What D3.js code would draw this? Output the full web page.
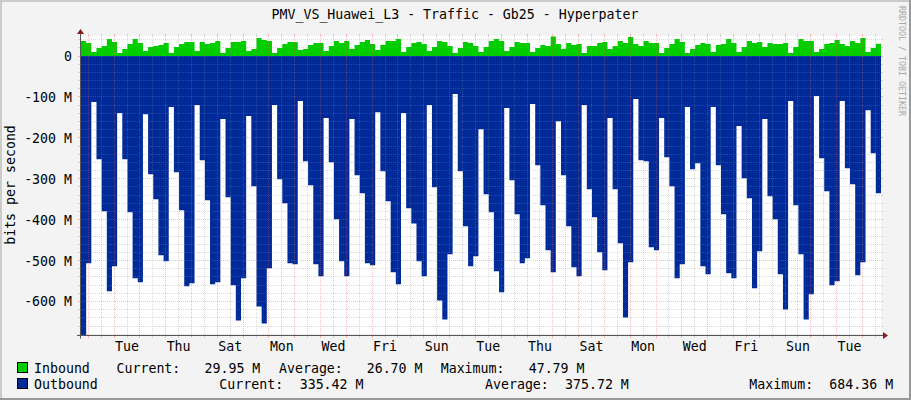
<!DOCTYPE html>
<html>
<head>
<meta charset="utf-8">
<script src="https://cdn.jsdelivr.net/npm/d3@7"></script>
<style>
html, body { margin: 0; padding: 0; background: #f3f3f3; }
svg { display: block; }
text { font-family: "DejaVu Sans Mono", monospace; font-size: 13.25px; fill: #000; white-space: pre; }
</style>
</head>
<body>
<svg id="chart"></svg>
<script>
const width = 911;
const height = 400;

const chartTitle = "PMV_VS_Huawei_L3 - Traffic - Gb25 - Hyperpater";
const yLabel = "bits per second";
const watermark = "RRDTOOL / TOBI OETIKER";

// one value per 4.8 hour step, 31 days, in Mbit/s
const inbound = [
    36.7, 31.8, 9.8, 19.6, 24.5, 41.6, 34.3, 7.3, 17.1, 29.4,
    41.6, 31.8, 12.2, 22.0, 24.5, 26.9, 31.8, 7.3, 22.0, 29.4,
    34.3, 34.3, 12.2, 34.3, 29.4, 31.8, 36.7, 7.3, 19.6, 34.3,
    34.3, 36.7, 12.2, 17.1, 44.1, 39.2, 36.7, 7.3, 19.6, 29.4,
    34.3, 34.3, 14.7, 17.1, 26.9, 31.8, 31.8, 12.2, 24.5, 36.7,
    31.8, 36.7, 17.1, 26.9, 34.3, 39.2, 29.4, 14.7, 26.9, 36.7,
    36.7, 41.6, 9.8, 22.0, 31.8, 34.3, 29.4, 12.2, 22.0, 36.7,
    34.3, 24.5, 7.3, 19.6, 34.3, 31.8, 24.5, 9.8, 22.0, 36.7,
    41.6, 36.7, 12.2, 22.0, 34.3, 31.8, 31.8, 9.8, 19.6, 26.9,
    24.5, 47.8, 29.4, 17.1, 31.8, 26.9, 29.4, 7.3, 24.5, 24.5,
    31.8, 34.3, 17.1, 24.5, 36.7, 31.8, 46.5, 29.4, 24.5, 36.7,
    31.8, 31.8, 7.3, 19.6, 29.4, 41.6, 34.3, 7.3, 17.1, 26.9,
    31.8, 29.4, 9.8, 26.9, 29.4, 41.6, 31.8, 9.8, 22.0, 36.7,
    31.8, 34.3, 22.0, 31.8, 29.4, 29.4, 31.8, 7.3, 22.0, 41.6,
    36.7, 36.7, 9.8, 17.1, 29.4, 31.8, 39.2, 29.4, 24.5, 36.7,
    31.8, 44.1, 9.8, 19.6, 29.95
];

const outbound = [
    684.4, 506.7,
    112.6, 252.1, 379.4, 575.2, 514.0,
    139.5, 252.1, 381.9, 543.4, 553.2,
    142.0, 288.8, 350.0, 487.1, 501.8,
    124.8, 283.9, 377.0, 563.0, 555.7,
    119.9, 254.6, 352.5, 558.1, 553.2,
    154.2, 345.1, 560.6, 646.2, 543.4,
    146.8, 318.2, 612.0, 653.6, 518.9,
    119.9, 301.1, 359.8, 506.7, 509.2,
    110.1, 257.0, 315.8, 509.2, 538.5,
    151.7, 259.5, 399.0, 501.8, 538.5,
    154.2, 291.3, 335.3, 506.7, 511.6,
    137.1, 281.5, 354.9, 528.7, 558.1,
    139.5, 372.1, 409.6, 501.8, 538.5,
    119.9, 320.7, 597.3, 643.8, 484.7,
    93.0, 281.5, 416.1, 514.0, 489.6,
    178.7, 337.8, 381.9, 526.3, 577.7,
    127.3, 303.5, 386.8, 506.7, 494.5,
    117.5, 266.8, 364.7, 474.9, 528.7,
    159.1, 291.3, 416.1, 516.5, 538.5,
    119.9, 325.6, 394.1, 479.8, 523.8,
    151.7, 325.6, 457.7, 638.9, 504.3,
    105.2, 254.6, 257.0, 467.5, 474.9,
    151.7, 247.2, 318.2, 543.4, 509.2,
    124.8, 276.6, 261.9, 514.0, 533.6,
    124.8, 266.8, 386.8, 531.2, 543.4,
    171.3, 298.6, 347.6, 567.9, 477.3,
    154.2, 342.7, 399.0, 533.6, 619.3,
    110.1, 364.7, 484.7, 643.8, 582.6,
    97.9, 249.7, 330.4, 560.6, 550.8,
    110.1, 274.1, 313.3, 536.1, 504.3,
    132.2, 237.4, 335.42
];

const yTicks = [0, -100, -200, -300, -400, -500, -600];

// labels in time order, every second day
const xLabels = ["Tue", "Thu", "Sat", "Mon", "Wed", "Fri", "Sun", "Tue", "Thu", "Sat", "Mon", "Wed", "Fri", "Sun", "Tue"];

const legendRows = [
    { name: "Inbound", color: "#00cc00", y: 373, parts: [
        [116.5, "Current:"], [204.5, "29.95 M"], [279, "Average:"],
        [366.7, "26.70 M"], [440.7, "Maximum:"], [528.7, "47.79 M"]] },
    { name: "Outbound", color: "#002a97", y: 389, parts: [
        [219.3, "Current:"], [299.7, "335.42 M"], [485, "Average:"],
        [565, "375.72 M"], [749.3, "Maximum:"], [829.3, "684.36 M"]] }
];

const margin = { left: 81, right: 30, top: 36, bottom: 64 };
const plotW = 800;
const plotH = 300;
const plotR = margin.left + plotW;
const plotB = margin.top + plotH;

const svg = d3.select("#chart")
    .attr("width", width)
    .attr("height", height);

// page border
svg.append("rect").attr("width", width).attr("height", height).attr("fill", "#f3f3f3");
svg.append("path").attr("d", `M0 ${height}V0H${width}V2H2V${height}Z`).attr("fill", "#cbcbcb");
svg.append("path").attr("d", `M${width} 0V${height}H0V${height - 2}H${width - 2}V0Z`).attr("fill", "#999");

const x = d3.scaleLinear().domain([0, 155]).range([margin.left, plotR]);                  // in steps
const xDay = d3.scaleLinear().domain([0, 31]).range([88.3, 88.3 + 31 * 25.806]);          // in days
const y = d3.scaleLinear().domain([49, -684.36]).range([margin.top, plotB]);

// snap to pixel centres so the 1,1 dash gives clean dots
const px = v => Math.floor(v) + 0.5;

svg.append("rect")
    .attr("x", margin.left).attr("y", margin.top)
    .attr("width", plotW).attr("height", plotH)
    .attr("fill", "#fff");

// the last value is repeated so the final step gets its full width
const stepArea = d3.area()
    .x((d, i) => x(i))
    .y0(y(0))
    .y1(d => y(d))
    .curve(d3.curveStepAfter);

const outNeg = outbound.map(d => -d);

svg.append("path")
    .datum([...inbound, inbound[inbound.length - 1]])
    .attr("d", stepArea)
    .attr("fill", "#00cc00");

svg.append("path")
    .datum([...outNeg, outNeg[outNeg.length - 1]])
    .attr("d", stepArea)
    .attr("fill", "#002a97");

// grid sits on top of the areas, like rrdtool does
const grid = svg.append("g");
const minorColor = "#8c8c8c";
const majorColor = "#f45145";

const minorY = d3.range(40, -684, -20).filter(d => d % 100 !== 0);
const minorX = d3.range(0.5, 31, 1).filter(d => xDay(d) < plotR);
const majorX = d3.range(0, 31);

function hLines(values, color, opacity) {
    // dotted through the plot, short solid ticks outside it
    const g = grid.append("g").attr("stroke", color).attr("stroke-opacity", opacity);
    g.selectAll(".dot")
        .data(values)
        .enter()
        .append("line")
        .attr("x1", margin.left).attr("x2", plotR)
        .attr("y1", d => px(y(d))).attr("y2", d => px(y(d)))
        .attr("stroke-dasharray", "1,1");
    g.selectAll(".left")
        .data(values)
        .enter()
        .append("line")
        .attr("x1", margin.left - 3).attr("x2", margin.left)
        .attr("y1", d => px(y(d))).attr("y2", d => px(y(d)));
    g.selectAll(".right")
        .data(values)
        .enter()
        .append("line")
        .attr("x1", plotR).attr("x2", plotR + 2)
        .attr("y1", d => px(y(d))).attr("y2", d => px(y(d)));
}

function vLines(values, color, opacity) {
    const g = grid.append("g").attr("stroke", color).attr("stroke-opacity", opacity);
    g.selectAll(".dot")
        .data(values)
        .enter()
        .append("line")
        .attr("x1", d => px(xDay(d))).attr("x2", d => px(xDay(d)))
        .attr("y1", margin.top).attr("y2", plotB)
        .attr("stroke-dasharray", "1,1");
    g.selectAll(".top")
        .data(values)
        .enter()
        .append("line")
        .attr("x1", d => px(xDay(d))).attr("x2", d => px(xDay(d)))
        .attr("y1", margin.top - 2).attr("y2", margin.top);
    g.selectAll(".bottom")
        .data(values)
        .enter()
        .append("line")
        .attr("x1", d => px(xDay(d))).attr("x2", d => px(xDay(d)))
        .attr("y1", plotB).attr("y2", plotB + 2);
}

hLines(minorY, minorColor, 0.32);
vLines(minorX, minorColor, 0.32);
hLines(yTicks, majorColor, 0.38);
vLines(majorX, majorColor, 0.38);

// axes
const axisColor = "#555";
const axisY = plotB - 0.5;
grid.append("line")
    .attr("x1", margin.left - 0.5).attr("x2", margin.left - 0.5)
    .attr("y1", margin.top - 3).attr("y2", axisY + 3)
    .attr("stroke", axisColor);
grid.append("line")
    .attr("x1", margin.left - 4).attr("x2", plotR + 2)
    .attr("y1", axisY).attr("y2", axisY)
    .attr("stroke", axisColor);

svg.append("path")
    .attr("d", `M${plotR + 7} ${axisY}l-5 -3.5v7Z`)
    .attr("fill", "#8b1a1a");
svg.append("path")
    .attr("d", `M${margin.left - 0.5} ${margin.top - 7}l-3.5 5h7Z`)
    .attr("fill", "#8b1a1a");

// y tick labels
svg.selectAll(".y-label")
    .data(yTicks)
    .enter()
    .append("text")
    .attr("class", "y-label")
    .attr("x", 72)
    .attr("y", d => y(d) + 5)
    .attr("text-anchor", "end")
    .text(d => d === 0 ? "0" : `${d} M`);

// x tick labels, centred on the day they name
svg.selectAll(".x-label")
    .data(xLabels)
    .enter()
    .append("text")
    .attr("class", "x-label")
    .attr("x", (d, i) => xDay(1.5 + i * 2))
    .attr("y", 351)
    .attr("text-anchor", "middle")
    .text(d => d);

svg.append("text")
    .attr("x", 455)
    .attr("y", 19)
    .attr("text-anchor", "middle")
    .text(chartTitle);

svg.append("text")
    .attr("transform", "translate(15,185) rotate(-90)")
    .attr("text-anchor", "middle")
    .text(yLabel);

svg.append("text")
    .attr("transform", "translate(899,6) rotate(90)")
    .style("font-size", "8.3px")
    .style("fill", "#a8a8a8")
    .text(watermark);

// legend
const rows = svg.selectAll(".legend-row")
    .data(legendRows)
    .enter()
    .append("g")
    .attr("class", "legend-row");

rows.append("rect")
    .attr("x", 17.5).attr("y", d => d.y - 10.5)
    .attr("width", 10).attr("height", 10)
    .attr("fill", d => d.color)
    .attr("stroke", "#000");

rows.append("text")
    .attr("x", 34).attr("y", d => d.y)
    .text(d => d.name);

rows.selectAll(".legend-part")
    .data(d => d.parts.map(p => ({ x: p[0], label: p[1], y: d.y })))
    .enter()
    .append("text")
    .attr("x", d => d.x).attr("y", d => d.y)
    .text(d => d.label);
</script>
</body>
</html>
